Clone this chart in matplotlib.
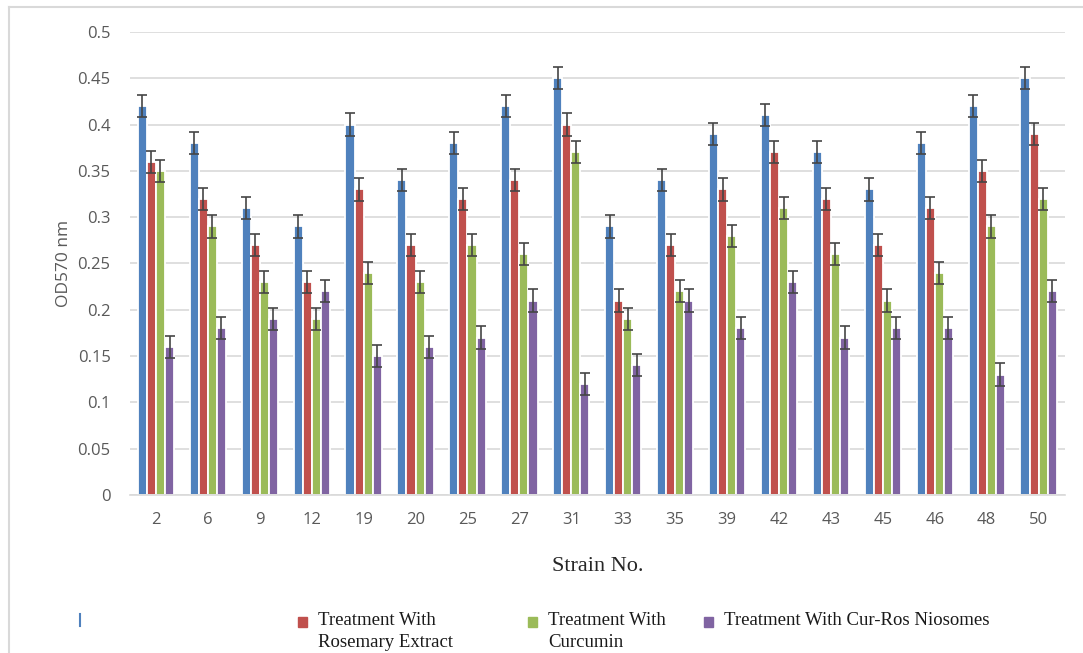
import numpy as np
import matplotlib.pyplot as plt
from matplotlib.patches import Rectangle
from matplotlib.lines import Line2D

strains = ["2", "6", "9", "12", "19", "20", "25", "27", "31", "33",
           "35", "39", "42", "43", "45", "46", "48", "50"]

control = [0.42, 0.38, 0.31, 0.29, 0.40, 0.34, 0.38, 0.42, 0.45, 0.29,
           0.34, 0.39, 0.41, 0.37, 0.33, 0.38, 0.42, 0.45]
rosemary = [0.36, 0.32, 0.27, 0.23, 0.33, 0.27, 0.32, 0.34, 0.40, 0.21,
            0.27, 0.33, 0.37, 0.32, 0.27, 0.31, 0.35, 0.39]
curcumin = [0.35, 0.29, 0.23, 0.19, 0.24, 0.23, 0.27, 0.26, 0.37, 0.19,
            0.22, 0.28, 0.31, 0.26, 0.21, 0.24, 0.29, 0.32]
niosomes = [0.16, 0.18, 0.19, 0.22, 0.15, 0.16, 0.17, 0.21, 0.12, 0.14,
            0.21, 0.18, 0.23, 0.17, 0.18, 0.18, 0.13, 0.22]
err = 0.012

series = [control, rosemary, curcumin, niosomes]
colors = ["#4F81BD", "#C0504D", "#9BBB59", "#8064A2"]
legend_labels = ["", "Treatment With\nRosemary Extract",
                 "Treatment With\nCurcumin", "Treatment With Cur-Ros Niosomes"]

fig = plt.figure(figsize=(10.83, 6.53), dpi=100)
ax = fig.add_axes([0.12, 0.242, 0.863, 0.709])

x = np.arange(len(strains))
w = 0.175
for i, (vals, c) in enumerate(zip(series, colors)):
    pos = x + (i - 1.5) * w
    ax.bar(pos, vals, width=w, color=c, edgecolor="white", linewidth=1.3, zorder=2)
    ax.errorbar(pos, vals, yerr=err, fmt="none", ecolor="#454545",
                elinewidth=1.2, capsize=3.5, capthick=1.2, zorder=3)

ax.set_xlim(-0.5, len(strains) - 0.5)
ax.set_ylim(0, 0.5)
ax.set_yticks(np.arange(0, 0.501, 0.05))
ax.set_yticklabels(["0", "0.05", "0.1", "0.15", "0.2", "0.25", "0.3", "0.35",
                    "0.4", "0.45", "0.5"])
ax.set_xticks(x)
ax.set_xticklabels(strains)
ax.tick_params(length=0, labelsize=12, labelcolor="#595959", pad=12)
ax.tick_params(axis="y", pad=14)
for lab in ax.get_xticklabels() + ax.get_yticklabels():
    lab.set_family("Open Sans")

ax.grid(axis="y", color="#d9d9d9", linewidth=1.2, zorder=0)
ax.set_axisbelow(True)
for s in ["top", "right", "left"]:
    ax.spines[s].set_visible(False)
ax.spines["bottom"].set_color("#d9d9d9")
ax.spines["bottom"].set_linewidth(1.2)

ax.set_ylabel("OD570 nm", family="Open Sans", fontsize=12.5, color="#595959", labelpad=4)
ax.set_xlabel("Strain No.", family="Liberation Serif", fontsize=16, color="#262626", labelpad=21)

# outer frame (top and left edges)
fig.add_artist(Line2D([0.008, 1.0], [0.989, 0.989], color="#d9d9d9", lw=1.5))
fig.add_artist(Line2D([0.008, 0.008], [0.0, 0.989], color="#d9d9d9", lw=1.5))

# legend along the bottom
fig.add_artist(Line2D([80 / 1083, 80 / 1083], [1 - 626 / 653, 1 - 614 / 653],
                      color=colors[0], lw=1.5))
legend_x = [None, 298, 528, 704]
for i in range(1, 4):
    lx = legend_x[i] / 1083
    fig.add_artist(Rectangle((lx, 1 - 627 / 653), 9 / 1083, 10 / 653,
                             color=colors[i], transform=fig.transFigure))
    fig.text(lx + 20 / 1083, 1 - 612 / 653, legend_labels[i], ha="left", va="top",
             family="Liberation Serif", fontsize=13.5, color="#1a1a1a", linespacing=1.4)

fig.savefig("out.png", dpi=100)
